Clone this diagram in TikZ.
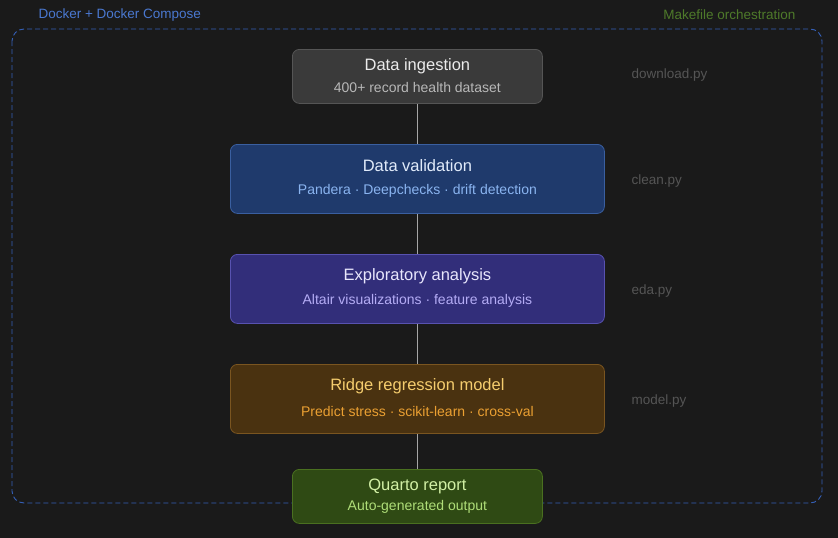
\documentclass[tikz,border=0pt]{standalone}
\usepackage{fontspec}
\setmainfont{Liberation Sans}
\definecolor{bg}{HTML}{1A1A1A}
\definecolor{dashblue}{HTML}{3560B8}
\definecolor{dklbl}{HTML}{4A78D0}
\definecolor{mk}{HTML}{4E7A2A}
\definecolor{py}{HTML}{555555}
\begin{document}
\begin{tikzpicture}[x=1pt,y=-1pt,
 box/.style={draw,rounded corners=7pt,line width=0.8pt,anchor=north west},
 t/.style={font=\fontsize{16.5}{19}\selectfont},
 s/.style={font=\fontsize{14}{17}\selectfont},
 lbl/.style={font=\fontsize{13.5}{16}\selectfont,anchor=west},
 conn/.style={draw=gray!70,line width=1pt}]
\fill[bg] (0,0) rectangle (838,538);
\useasboundingbox (0,0) rectangle (838,538);
\draw[dashblue,line width=0.9pt,rounded corners=12pt,dash pattern=on 5pt off 3pt] (12,29) rectangle (822,503);
\node[lbl,text=dklbl] (dk) at (35,15) {Docker + Docker Compose};
\node[lbl,text=mk,anchor=east] (mf) at (799,15) {Makefile orchestration};

\node[box,draw={rgb,255:red,85;green,85;blue,85},fill={rgb,255:red,58;green,58;blue,58},minimum width=250pt,minimum height=54pt] (n1) at (292,49) {};
\node[t,text=white!92!black] at ([yshift=-17pt]n1.north) {Data ingestion};
\node[s,text=white!72!black] at ([yshift=-38pt]n1.north) {400+ record health dataset};

\node[box,draw={rgb,255:red,58;green,95;blue,160},fill={rgb,255:red,31;green,58;blue,108},minimum width=374pt,minimum height=69pt] (n2) at (230,144) {};
\node[t,text={rgb,255:red,225;green,235;blue,250}] at ([yshift=-22pt]n2.north) {Data validation};
\node[s,text={rgb,255:red,138;green,180;blue,240}] at ([yshift=-47pt]n2.north) {Pandera · Deepchecks · drift detection};

\node[box,draw={rgb,255:red,88;green,82;blue,176},fill={rgb,255:red,50;green,46;blue,122},minimum width=374pt,minimum height=69pt] (n3) at (230,254) {};
\node[t,text={rgb,255:red,232;green,230;blue,252}] at ([yshift=-22pt]n3.north) {Exploratory analysis};
\node[s,text={rgb,255:red,180;green,172;blue,245}] at ([yshift=-47pt]n3.north) {Altair visualizations · feature analysis};

\node[box,draw={rgb,255:red,122;green,85;blue,32},fill={rgb,255:red,74;green,50;blue,16},minimum width=374pt,minimum height=69pt] (n4) at (230,364) {};
\node[t,text={rgb,255:red,245;green,205;blue,110}] at ([yshift=-22pt]n4.north) {Ridge regression model};
\node[s,text={rgb,255:red,235;green,160;blue,50}] at ([yshift=-47pt]n4.north) {Predict stress · scikit-learn · cross-val};

\node[box,draw={rgb,255:red,74;green,112;blue,32},fill={rgb,255:red,47;green,74;blue,20},minimum width=250pt,minimum height=54pt] (n5) at (292,469) {};
\node[t,text={rgb,255:red,210;green,240;blue,165}] at ([yshift=-17pt]n5.north) {Quarto report};
\node[s,text={rgb,255:red,175;green,222;blue,120}] at ([yshift=-38pt]n5.north) {Auto-generated output};

\draw[conn] (n1.south) -- (n2.north);
\draw[conn] (n2.south) -- (n3.north);
\draw[conn] (n3.south) -- (n4.north);
\draw[conn] (n4.south) -- (n5.north);

\node[lbl,text=py] (p1) at (628,75) {download.py};
\node[lbl,text=py] (p2) at (628,181) {clean.py};
\node[lbl,text=py] (p3) at (628,291) {eda.py};
\node[lbl,text=py] (p4) at (628,401) {model.py};
\end{tikzpicture}
\end{document}
